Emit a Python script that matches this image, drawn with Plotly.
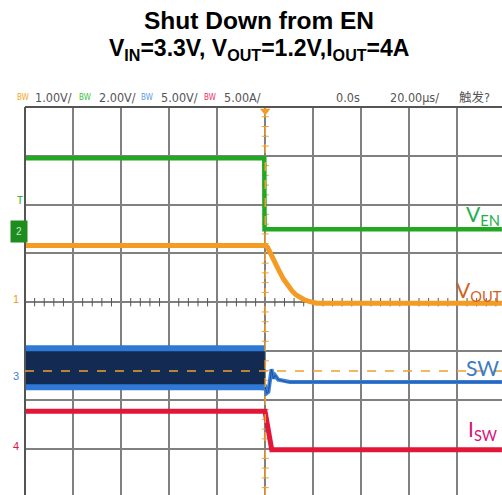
import numpy as np
import plotly.graph_objects as go

# ---------------- layout geometry (scope screen) ----------------
W, H = 502, 495          # page size
ML, MT = 25, 107         # plot area position in page pixels
PW, PH = W - ML, H - MT
DIV_X_PX = 48.05
DIV_Y_PX = 48.8
T_PER_DIV = 20.0                      # µs/div
T_MIN = -100.0
T_MAX = T_MIN + PW / DIV_X_PX * T_PER_DIV
Y_TOP = 4.0
Y_BOT = Y_TOP - PH / DIV_Y_PX

# ---------------- channel settings ----------------
ch_names = ["vout", "en", "sw", "isw"]
ch_scale = [1.0, 2.0, 5.0, 5.0]            # V/div, V/div, V/div, A/div
ch_ground_div = [0.0, 1.43, -1.59, -3.0]   # ground marker position (div)
ch_colors = ["#f39b22", "#22a822", "#3a7fd8", "#e3163a"]

# ---------------- data (time in µs) ----------------
t_en = [-100, -0.4, -0.3, 98.5]
v_en = [3.04, 3.04, 0.13, 0.13]

t_vout = [-100, 0.2, 1.0, 2.0, 3.0, 4.1, 5.5, 7.5, 9.0, 11.0, 12.8, 14.5, 16.2, 17.9, 21.4, 98.5]
v_vout = [1.16, 1.16, 1.12, 1.03, 0.93, 0.82, 0.67, 0.48, 0.36, 0.24, 0.15, 0.09, 0.05, 0.02, -0.02, -0.02]

t_sw_band = [-100, -0.2]
sw_outer_hi = [3.53, 3.53]
sw_outer_lo = [-1.08, -1.08]
sw_inner_hi = [2.92, 2.92]
sw_inner_lo = [-0.46, -0.46]

t_sw = [-0.2, 0.6, 1.3, 2.6, 3.35, 4.1, 5.4, 6.85, 8.9, 10.3, 98.5]
v_sw = [-0.5, -1.38, -1.25, 1.08, 0.12, 0.46, 0.02, -0.05, -0.23, -0.23, -0.23]

t_isw = [-100, -0.1, 2.7, 98.5]
i_sw = [3.82, 3.82, -0.12, -0.12]

cursor_div = -1.41          # orange dashed horizontal cursor (div)

header_labels = ["1.00V/", "2.00V/", "5.00V/", "5.00A/"]
header_x = [33, 97, 159, 222]
bw_x = [15, 77, 139, 202]
bw_colors = ["#f5a623", "#3cc23c", "#5a9be8", "#ee3060"]


def yrange(i):
    g, s = ch_ground_div[i], ch_scale[i]
    return [(Y_BOT - g) * s, (Y_TOP - g) * s]


def px_x(px):
    return (px - ML) / PW


def px_y(py):
    return (H - py) / PH


fig = go.Figure()

# center-line minor ticks (decoration)
tick_t = [t for t in np.arange(-96, 98, 4) if abs(t % 20) > 1e-6]
fig.add_trace(go.Scatter(x=tick_t, y=[0] * len(tick_t), mode="markers",
                         marker=dict(symbol="line-ns", size=6, line=dict(width=1, color="#555")),
                         hoverinfo="skip", showlegend=False))

# SW band (switching before shutdown)
fig.add_trace(go.Scatter(x=t_sw_band, y=sw_outer_lo, yaxis="y4", mode="lines",
                         line=dict(width=0, color="#2f78d6"), showlegend=False))
fig.add_trace(go.Scatter(x=t_sw_band, y=sw_outer_hi, yaxis="y4", mode="lines", fill="tonexty",
                         fillcolor="#2f78d6", line=dict(width=0, color="#2f78d6"), showlegend=False))
fig.add_trace(go.Scatter(x=t_sw_band, y=sw_inner_lo, yaxis="y4", mode="lines",
                         line=dict(width=0, color="#132b52"), showlegend=False))
fig.add_trace(go.Scatter(x=t_sw_band, y=sw_inner_hi, yaxis="y4", mode="lines", fill="tonexty",
                         fillcolor="#132b52", line=dict(width=0, color="#132b52"), showlegend=False))
# SW after shutdown
fig.add_trace(go.Scatter(x=t_sw, y=v_sw, yaxis="y4", mode="lines",
                         line=dict(width=4, color="#3a7fd8"), showlegend=False))
fig.add_trace(go.Scatter(x=t_sw, y=v_sw, yaxis="y4", mode="lines",
                         line=dict(width=1, color="#1f4f9a"), showlegend=False))

# ISW
fig.add_trace(go.Scatter(x=t_isw, y=i_sw, yaxis="y5", mode="lines",
                         line=dict(width=5, color="#e3163a"), showlegend=False))
# EN
fig.add_trace(go.Scatter(x=t_en, y=v_en, yaxis="y3", mode="lines",
                         line=dict(width=4.5, color="#22a822"), showlegend=False))
# VOUT
fig.add_trace(go.Scatter(x=t_vout, y=v_vout, yaxis="y2", mode="lines",
                         line=dict(width=5, color="#f39b22"), showlegend=False))

# trigger line ticks
tick_y = [y for y in np.arange(-3.8, 4.0, 0.2) if abs(round(y * 5) % 5) != 0]
fig.add_trace(go.Scatter(x=[0] * len(tick_y), y=tick_y, mode="markers",
                         marker=dict(symbol="line-ew", size=5, line=dict(width=1, color="#f0a030")),
                         hoverinfo="skip", showlegend=False))

# trigger marker at top and channel markers on left
fig.add_trace(go.Scatter(x=[0], y=[3.92], mode="markers", cliponaxis=False,
                         marker=dict(symbol="triangle-down", size=9, color="#f39b22"),
                         showlegend=False))
mark_t = T_MIN - 3.0 / DIV_X_PX * T_PER_DIV
fig.add_trace(go.Scatter(x=[mark_t] * 4, y=ch_ground_div, mode="markers", cliponaxis=False,
                         marker=dict(symbol="triangle-right", size=7, color=ch_colors),
                         showlegend=False))
trig_div = Y_TOP - (213 - MT) / DIV_Y_PX
fig.add_trace(go.Scatter(x=[mark_t], y=[trig_div], mode="markers", cliponaxis=False,
                         marker=dict(symbol="triangle-right", size=7, color="#22a822"),
                         showlegend=False))

# shapes: borders, trigger line, cursor line
shapes = [
    dict(type="line", xref="paper", yref="paper", x0=0, x1=0, y0=0, y1=1,
         line=dict(color="#555", width=2)),
    dict(type="line", xref="paper", yref="paper", x0=0, x1=1, y0=1, y1=1,
         line=dict(color="#555", width=2)),
    dict(type="line", xref="x", yref="paper", x0=0, x1=0, y0=0, y1=1,
         line=dict(color="#f0a030", width=1.5, dash="dash")),
    dict(type="line", xref="paper", yref="y", x0=0, x1=1, y0=cursor_div, y1=cursor_div,
         line=dict(color="#f0a030", width=1.5, dash="dash")),
]

ann = []
title_font = "Liberation Sans, Arial, sans-serif"
ann.append(dict(text="<b>Shut Down from EN</b>", x=px_x(259), y=px_y(21), xref="paper", yref="paper",
                showarrow=False, xanchor="center", yanchor="middle",
                font=dict(family=title_font, size=24.5, color="#000")))
ann.append(dict(text="<b>V<sub>IN</sub>=3.3V, V<sub>OUT</sub>=1.2V,I<sub>OUT</sub>=4A</b>",
                x=px_x(259), y=px_y(49), xref="paper", yref="paper",
                showarrow=False, xanchor="center", yanchor="middle",
                font=dict(family=title_font, size=23, color="#000")))

hdr_font = "Liberation Sans Narrow, Arial Narrow, DejaVu Sans Condensed, sans-serif"
for lab, x in zip(header_labels, header_x):
    ann.append(dict(text=lab, x=px_x(x), y=px_y(97), xref="paper", yref="paper",
                    showarrow=False, xanchor="left", yanchor="middle",
                    font=dict(family=hdr_font, size=12.5, color="#555")))
for x, c in zip(bw_x, bw_colors):
    ann.append(dict(text="BW", x=px_x(x), y=px_y(97), xref="paper", yref="paper",
                    showarrow=False, xanchor="left", yanchor="middle",
                    font=dict(family=hdr_font, size=8, color=c)))
for lab, x in [("0.0s", 334), ("20.00µs/", 388), ("触发?", 457)]:
    ann.append(dict(text=lab, x=px_x(x), y=px_y(97), xref="paper", yref="paper",
                    showarrow=False, xanchor="left", yanchor="middle",
                    font=dict(family=hdr_font + ", Noto Sans CJK SC", size=12.5, color="#555")))

lab_font = "Lato, Open Sans, sans-serif"
for txt, x, y, c in [("V<sub>EN</sub>", 464, 215, "#1db04a"),
                     ("V<sub>OUT</sub>", 454, 291, "#d4621a"),
                     ("SW", 464, 367, "#3a7cc6"),
                     ("I<sub>SW</sub>", 466, 430, "#d4157a")]:
    ann.append(dict(text=txt, x=px_x(x), y=px_y(y), xref="paper", yref="paper",
                    showarrow=False, xanchor="left", yanchor="middle",
                    font=dict(family=lab_font, size=21, color=c)))

# channel number markers
for num, py, c in [("1", 299, "#f39b22"), ("3", 376, "#3a7fd8"), ("4", 446, "#e3163a")]:
    ann.append(dict(text=num, x=px_x(16), y=px_y(py), xref="paper", yref="paper",
                    showarrow=False, xanchor="center", yanchor="middle",
                    font=dict(family="Liberation Sans, sans-serif", size=11, color=c)))
ann.append(dict(text="T", x=px_x(20), y=px_y(200), xref="paper", yref="paper",
                showarrow=False, xanchor="center", yanchor="middle",
                font=dict(family="Liberation Sans, sans-serif", size=10, color="#22a822")))
ann.append(dict(text="2", x=px_x(19), y=px_y(231), xref="paper", yref="paper",
                showarrow=False, xanchor="center", yanchor="middle", bgcolor="#1e8c1e",
                borderpad=5, font=dict(family="Liberation Sans, sans-serif", size=10, color="#bff0bf")))

axis_common = dict(showticklabels=False, ticks="", zeroline=False, showline=False)
fig.update_layout(
    width=W, height=H, autosize=False,
    margin=dict(l=ML, r=0, t=MT, b=0, pad=0),
    paper_bgcolor="white", plot_bgcolor="white",
    showlegend=False,
    xaxis=dict(range=[T_MIN, T_MAX], tick0=T_MIN, dtick=T_PER_DIV, showgrid=True,
               gridcolor="#808080", gridwidth=1.5, **axis_common),
    yaxis=dict(range=[Y_BOT, Y_TOP], tick0=0, dtick=1, showgrid=True,
               gridcolor="#808080", gridwidth=1.5, **axis_common),
    yaxis2=dict(range=yrange(0), overlaying="y", visible=False),
    yaxis3=dict(range=yrange(1), overlaying="y", visible=False),
    yaxis4=dict(range=yrange(2), overlaying="y", visible=False),
    yaxis5=dict(range=yrange(3), overlaying="y", visible=False),
    shapes=shapes,
    annotations=ann,
)

fig.write_html("out.html", config={"displayModeBar": False},
               post_script="document.body.style.margin='0';document.body.style.overflow='hidden';")
